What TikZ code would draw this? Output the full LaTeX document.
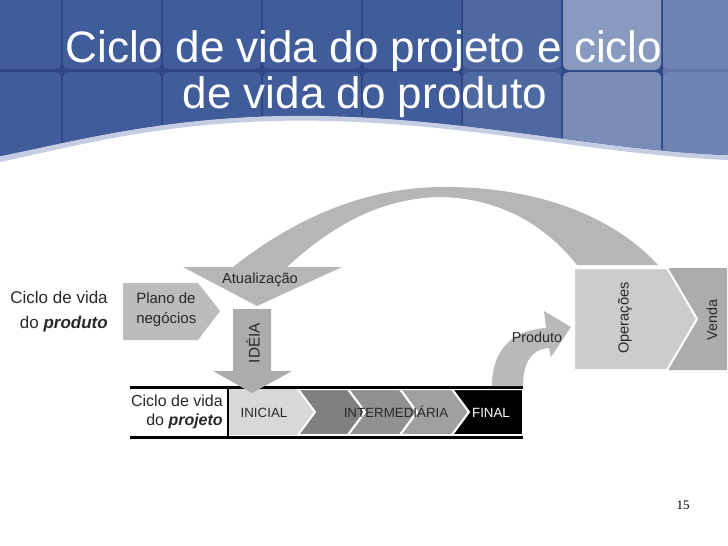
\documentclass[tikz,border=0pt]{standalone}
\usepackage{fontspec}
\setmainfont{Liberation Sans}
\newfontfamily\pagenumfont{Liberation Serif}

\begin{document}
\begin{tikzpicture}[x=0.75pt,y=0.75pt,yscale=-1,xscale=1,
  lbl/.style={inner sep=0.75pt, text={rgb,255:red,40;green,40;blue,40}},
  sepline/.style={draw=white, line width=1.5pt, line join=miter},
  cell/.style={fill={rgb,255:red,64;green,92;blue,154}, rounded corners=4pt},
  stepfill/.style={fill={rgb,255:red,#1;green,#1;blue,#1}}]
\useasboundingbox (0,0) rectangle (728,546);

%Shape: banner shadow
\fill [color={rgb,255:red,196;green,205;blue,226}] (0,0) -- (728,0) -- (728,160) .. controls (600,155) and (480,125) .. (330,121) .. controls (180,117) and (80,145) .. (0,162) -- cycle;
%Shape: banner
\fill [color={rgb,255:red,46;green,72;blue,134}] (0,0) -- (728,0) -- (728,155) .. controls (600,150) and (480,120) .. (330,116) .. controls (180,112) and (80,140) .. (0,156) -- cycle;
%Shape: banner squares
\begin{scope}
\clip (0,0) -- (728,0) -- (728,155) .. controls (600,150) and (480,120) .. (330,116) .. controls (180,112) and (80,140) .. (0,156) -- cycle;
\foreach \cx in {-38,62,162,262,362,462,562,662} {
  \foreach \cy in {-30,71} {
    \fill [cell] (\cx+1,\cy+1) rectangle (\cx+99,\cy+99);
  }
}
\fill [white, opacity=0.08, rounded corners=4pt] (463,-30) rectangle (561,200);
\fill [white, opacity=0.38, rounded corners=4pt] (563,-30) rectangle (661,70);
\fill [white, opacity=0.30, rounded corners=4pt] (563,72) rectangle (661,200);
\fill [white, opacity=0.25, rounded corners=4pt] (663,-30) rectangle (760,200);
\end{scope}

% Text Node
\node [anchor=base, inner sep=0pt, text=white, font=\fontsize{33}{35}\selectfont] (title1) at (364,62) {Ciclo de vida do projeto e ciclo};
% Text Node
\node [anchor=base, inner sep=0pt, text=white, font=\fontsize{33}{35}\selectfont] (title2) at (365,108) {de vida do produto};

%Shape: Atualizacao swoosh
\fill [stepfill=182] (233,267) .. controls (290,222) and (360,188) .. (440,187) .. controls (540,186) and (615,218) .. (658,265) -- (577,265) .. controls (545,225) and (500,198) .. (440,197) .. controls (375,198) and (325,232) .. (287,267) -- cycle;
%Shape: Atualizacao head
\fill [stepfill=182] (183,267) -- (342,267) -- (257,306) -- cycle;
%Shape: Plano de negocios
\fill [stepfill=188] (123,283) -- (198,283) -- (220,311) -- (198,340) -- (123,340) -- cycle;

%Shape: project band
\fill [stepfill=216] (228,389) -- (298,389) -- (315,412) -- (298,435) -- (228,435) -- cycle;
\filldraw [stepfill=128, sepline] (298,389) -- (348,389) -- (365,412) -- (348,435) -- (298,435) -- (315,412) -- cycle;
\filldraw [stepfill=145, sepline] (348,389) -- (400,389) -- (417,412) -- (400,435) -- (348,435) -- (365,412) -- cycle;
\filldraw [stepfill=160, sepline] (400,389) -- (452,389) -- (469,412) -- (452,435) -- (400,435) -- (417,412) -- cycle;
\filldraw [fill=black, sepline] (452,389) -- (523,389) -- (523,435) -- (452,435) -- (469,412) -- cycle;
%Straight Lines
\draw [line width=2.25pt] (130,387) -- (523,387);
\draw [line width=2.25pt] (130,437) -- (523,437);
\draw [line width=0.8pt] (228,387) -- (228,437);

%Shape: IDEIA arrow
\fill [stepfill=172] (233,309) -- (271,309) -- (271,371) -- (292,371) -- (252,393) -- (213,371) -- (233,371) -- cycle;
%Shape: Produto arrow
\fill [stepfill=185] (492,386) .. controls (492,350) and (512,330) .. (546,328) -- (544,311) -- (571,327) -- (551,357) -- (549,348) .. controls (532,349) and (523,362) .. (523,386) -- cycle;

%Shape: Venda
\fill [stepfill=172] (667,268) -- (727,268) -- (727,370) -- (667,370) -- (697,319) -- cycle;
%Shape: Operacoes
\filldraw [stepfill=204, sepline] (574,268) -- (667,268) -- (697,319) -- (667,370) -- (574,370) -- cycle;

% Text Node
\node [lbl, anchor=east, align=right, font=\fontsize{12.75}{18.75}\selectfont] (prodcycle) at (109,312) {Ciclo de vida\\do \textbf{\textit{produto}}};
% Text Node
\node [lbl, anchor=west, align=left, font=\fontsize{11.25}{15}\selectfont] (plano) at (135,310) {Plano de\\negócios};
% Text Node
\node [lbl, anchor=base, font=\fontsize{11}{13}\selectfont] (atual) at (260,283) {Atualização};
% Text Node
\node [lbl, rotate=90, font=\fontsize{11.5}{13}\selectfont] (ideia) at (253,343) {IDÉIA};
% Text Node
\node [lbl, anchor=east, align=right, font=\fontsize{12}{14.25}\selectfont] (projcycle) at (224,412) {Ciclo de vida\\do \textbf{\textit{projeto}}};
% Text Node
\node [lbl, anchor=base, font=\fontsize{10}{12}\selectfont] (inicial) at (264,417) {INICIAL};
% Text Node
\node [lbl, anchor=base, font=\fontsize{10}{12}\selectfont] (interm) at (396,417) {INTERMEDIÁRIA};
% Text Node
\node [inner sep=0.75pt, anchor=base, text=white, font=\fontsize{10}{12}\selectfont] (final) at (491,417) {FINAL};
% Text Node
\node [lbl, font=\fontsize{10.75}{13}\selectfont] (produto) at (537,337) {Produto};
% Text Node
\node [lbl, rotate=90, font=\fontsize{11}{13}\selectfont] (oper) at (625,318) {Operações};
% Text Node
\node [lbl, rotate=90, font=\fontsize{10.75}{13}\selectfont] (venda) at (712,320) {Venda};
% Text Node
\node [inner sep=0.75pt, font=\pagenumfont\fontsize{9.75}{12}\selectfont] (pagenum) at (683,505) {15};

\end{tikzpicture}
\end{document}
